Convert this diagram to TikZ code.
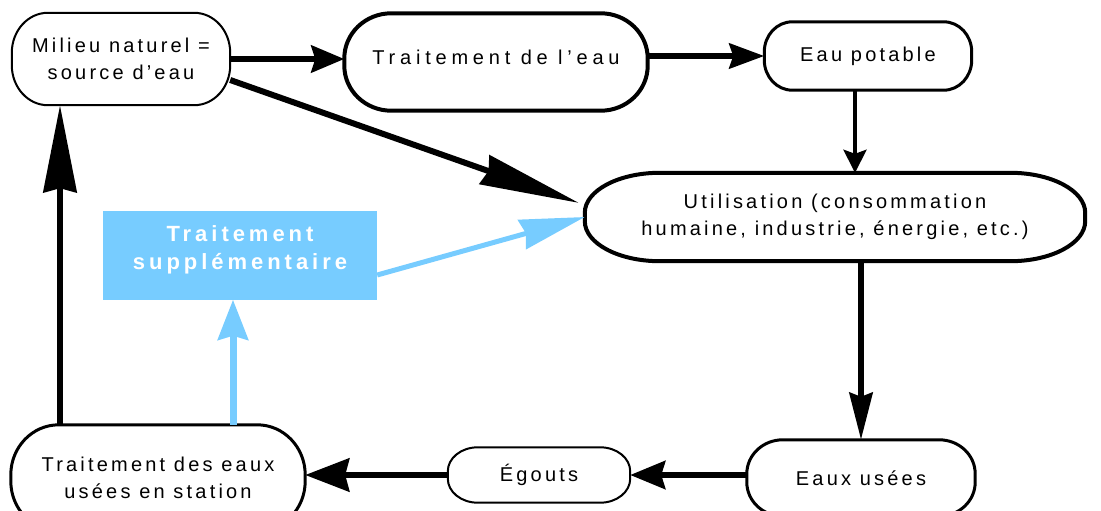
\documentclass[tikz,border=0pt]{standalone}
\usepackage{fontspec}
\setmainfont[LetterSpace=16]{Liberation Sans}
\usetikzlibrary{arrows.meta}
\definecolor{extra}{HTML}{77CCFF}

% outline with elliptical corners round a node: [opts]{node}{rx}{ry}
\newcommand{\pillframe}[4][]{%
  \draw[#1] ([xshift=#3]#2.north west) -- ([xshift=-#3]#2.north east)
    arc[start angle=90,end angle=0,x radius=#3,y radius=#4]
    -- ([yshift=#4]#2.south east)
    arc[start angle=0,end angle=-90,x radius=#3,y radius=#4]
    -- ([xshift=#3]#2.south west)
    arc[start angle=270,end angle=180,x radius=#3,y radius=#4]
    -- ([yshift=-#4]#2.north west)
    arc[start angle=180,end angle=90,x radius=#3,y radius=#4] -- cycle;}

\begin{document}
\begin{tikzpicture}[x=1pt,y=-1pt,
  stage/.style={align=center,inner sep=0pt,font=\fontsize{20}{27}\selectfont},
  flow/.style={line width=#1},
  head/.style 2 args={-{Stealth[length=#1,width=#2,inset=4pt]}}]
  \useasboundingbox (0,0) rectangle (1101,511);
  \clip (0,0) rectangle (1101,511);

  % Stages
  \node[stage,minimum width=218pt,minimum height=92pt] (milieu) at (121,59) {Milieu naturel =\\source d'eau};
  \node[stage,minimum width=303pt,minimum height=97pt,text depth=10pt,
    font=\fontsize{20}{27}\selectfont\addfontfeature{LetterSpace=24}] (trt) at (496,62) {Traitement de l'eau};
  \node[stage,minimum width=207pt,minimum height=68pt] (potable) at (868,56) {Eau potable};
  \node[stage,minimum width=500pt,minimum height=88pt] (util) at (835,217) {Utilisation (consommation\\humaine, industrie, énergie, etc.)};
  \node[stage,minimum width=228pt,minimum height=76pt] (usees) at (861,478) {Eaux usées};
  \node[stage,minimum width=182pt,minimum height=55pt] (egouts) at (539,475) {Égouts};
  \node[stage,minimum width=294pt,minimum height=106pt] (tdeu) at (158,478) {Traitement des eaux\\usées en station};
  \node[fill=extra,inner sep=0pt,minimum width=274pt,minimum height=89pt] (supp) at (240,255) {};
  \node[stage,text=white,font=\fontsize{22}{28}\selectfont\bfseries\addfontfeature{LetterSpace=18}]
    (supptext) at ([yshift=5pt]supp.center) {Traitement\\supplémentaire};

  \pillframe[line width=2pt]{milieu}{36pt}{40pt}
  \pillframe[line width=4pt]{trt}{47pt}{45pt}
  \pillframe[line width=3pt]{potable}{28pt}{30pt}
  \pillframe[line width=4pt]{util}{75pt}{40pt}
  \pillframe[line width=3pt]{usees}{36pt}{34pt}
  \pillframe[line width=2pt]{egouts}{30pt}{24pt}
  \pillframe[line width=3pt]{tdeu}{48pt}{50pt}

  % Cycle
  \coordinate (back) at (60,0);
  \draw[flow=6pt,head={33pt}{27pt}] (milieu.east) -- (milieu.east -| trt.west);
  \draw[flow=6pt,head={35pt}{25pt}] (trt.east |- potable.west) -- (potable.west);
  \draw[flow=4pt,head={23pt}{23pt}] ([xshift=-13pt]potable.south) -- ([xshift=-13pt]potable.south |- util.north);
  \draw[flow=6pt,head={100pt}{30pt},shorten >=6pt] ([yshift=-21pt]milieu.east) -- ([yshift=12pt]util.west);
  \draw[flow=6pt,head={47pt}{23pt}] (util.south -| usees.north) -- (usees.north);
  \draw[flow=6pt,head={35pt}{28pt}] (usees.west |- egouts.east) -- (egouts.east);
  \draw[flow=6pt,head={44pt}{33pt}] (egouts.west) -- (egouts.west -| tdeu.east);
  \draw[flow=6pt,head={87pt}{33pt}] (back |- tdeu.north) -- (back |- milieu.south);

  % Extra treatment
  \draw[extra,flow=7pt,head={40pt}{30pt}] ([xshift=-7pt]supp.south |- tdeu.north) -- ([xshift=-7pt]supp.south);
  \draw[extra,flow=5pt,head={65pt}{30pt}] ([yshift=-20pt]supp.east) -- (util.west);
\end{tikzpicture}
\end{document}
